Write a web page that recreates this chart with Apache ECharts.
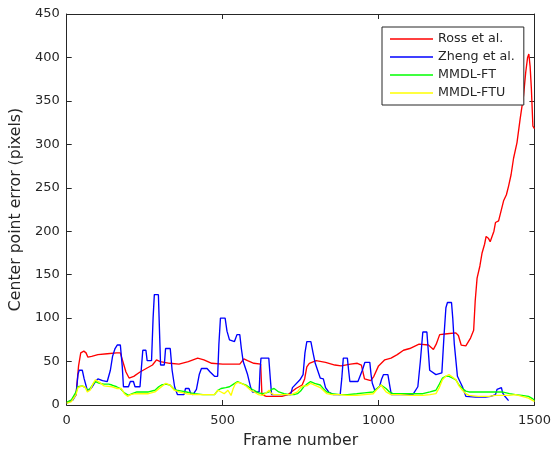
<!DOCTYPE html>
<html>
<head>
<meta charset="utf-8">
<script src="https://cdn.jsdelivr.net/npm/echarts@6/dist/echarts.min.js"></script>
<style>
  html, body { margin: 0; padding: 0; background: #fff; }
  #chart { width: 554px; height: 456px; }
</style>
</head>
<body>
<div id="chart"></div>
<script>
// Center point error per frame, [frame, error in pixels]
const seriesNames = ['Ross et al.', 'Zheng et al.', 'MMDL-FT', 'MMDL-FTU'];
const seriesColors = ['#ff0000', '#0000ff', '#00ff00', '#ffff00'];
const xTicks = [0, 500, 1000, 1500];
const yTicks = [0, 50, 100, 150, 200, 250, 300, 350, 400, 450];

const ross = [
  [0,3],[15,5],[30,12],[38,45],[45,60],[55,62],[62,60],[68,55],[80,56],[100,58],[130,59],[160,60],[172,60],
  [180,50],[190,38],[200,31],[215,33],[235,38],[255,42],[275,46],[288,52],[300,50],[330,48],[360,47],[390,50],
  [420,54],[440,52],[465,48],[500,47],[530,47],[555,47],[568,53],[580,51],[600,48],[622,47],[626,12],[640,10],
  [660,10],[690,10],[710,12],[735,19],[755,23],[763,30],[770,44],[778,48],[800,51],[830,49],[860,46],[880,45],
  [910,47],[932,48],[945,46],[955,30],[975,28],[985,33],[1000,45],[1020,52],[1040,54],[1060,58],[1080,63],
  [1100,65],[1130,70],[1160,69],[1176,64],[1185,70],[1196,81],[1220,82],[1248,83],[1256,80],[1265,69],[1280,68],
  [1295,77],[1305,86],[1310,120],[1316,146],[1325,160],[1332,175],[1340,185],[1345,194],[1352,192],[1358,188],
  [1364,190],[1370,200],[1375,210],[1385,212],[1391,213],[1401,235],[1410,242],[1417,252],[1425,265],[1433,284],
  [1444,302],[1454,329],[1465,356],[1472,383],[1478,400],[1482,404],[1486,390],[1490,365],[1495,321],[1500,318]
];

const zheng = [
  [0,2],[20,6],[30,12],[36,35],[40,40],[50,40],[56,30],[66,17],[75,18],[82,21],[92,27],[100,30],[115,28],[130,27],
  [140,40],[147,56],[155,65],[162,69],[172,69],[178,45],[182,21],[198,21],[204,27],[214,27],[219,21],[235,21],
  [240,45],[244,63],[254,63],[258,51],[272,51],[277,100],[281,127],[294,127],[298,80],[301,46],[313,46],[317,65],
  [332,65],[338,40],[346,21],[355,12],[376,12],[381,19],[392,19],[398,13],[405,12],[416,18],[425,35],[432,42],
  [450,42],[460,38],[474,33],[484,33],[488,70],[493,100],[508,100],[514,85],[522,75],[538,73],[546,81],[555,81],
  [560,65],[566,50],[580,35],[590,20],[596,15],[617,15],[620,40],[623,54],[648,54],[653,30],[657,12],[718,12],
  [724,20],[730,22],[748,29],[758,35],[764,60],[770,73],[783,73],[790,60],[797,48],[813,31],[823,30],[830,20],
  [840,15],[855,12],[877,12],[882,30],[887,54],[900,54],[904,40],[908,27],[934,27],[948,40],[956,49],[972,49],
  [976,35],[980,25],[988,17],[1003,21],[1010,30],[1016,35],[1030,35],[1037,20],[1041,12],[1110,12],[1126,21],
  [1134,50],[1142,84],[1155,84],[1160,60],[1164,40],[1184,35],[1203,37],[1210,80],[1216,112],[1221,118],[1234,118],
  [1238,100],[1243,70],[1253,33],[1269,21],[1280,10],[1285,8],[1311,9],[1343,9],[1360,10],[1375,12],[1380,18],
  [1383,20],[1394,20],[1398,14],[1405,10],[1417,5]
];

const mmdlFT = [
  [0,3],[15,6],[30,15],[36,21],[50,22],[60,20],[66,17],[75,19],[85,24],[92,27],[105,25],[119,24],[135,24],[145,23],
  [160,21],[172,19],[185,14],[198,11],[210,13],[225,15],[245,15],[262,15],[283,17],[295,21],[304,23],[318,24],
  [331,23],[345,18],[352,17],[370,16],[384,15],[397,14],[410,13],[437,12],[455,12],[474,12],[485,17],[495,19],
  [510,20],[522,21],[535,24],[548,27],[560,25],[575,23],[590,19],[601,17],[615,14],[628,13],[640,14],[649,15],
  [657,18],[665,19],[680,15],[697,13],[715,12],[729,12],[740,13],[750,16],[760,21],[770,24],[782,27],[795,25],
  [813,23],[825,18],[834,15],[850,13],[877,12],[900,12],[930,13],[955,14],[983,15],[995,19],[1008,23],[1016,21],
  [1024,19],[1035,15],[1046,13],[1070,13],[1100,13],[1142,13],[1165,15],[1184,17],[1195,24],[1205,31],[1215,33],
  [1226,33],[1238,31],[1248,29],[1258,23],[1269,19],[1280,16],[1290,15],[1320,15],[1354,15],[1375,15],[1396,15],
  [1420,13],[1439,12],[1460,11],[1481,10],[1495,7],[1500,5]
];

const mmdlFTU = [
  [0,2],[15,4],[30,12],[36,20],[50,22],[60,20],[66,15],[75,17],[85,25],[92,29],[105,26],[120,22],[145,21],[160,19],
  [175,19],[185,13],[195,10],[205,12],[220,13],[245,13],[262,13],[283,15],[300,20],[318,25],[331,23],[345,17],
  [360,15],[384,13],[410,12],[437,12],[460,12],[474,12],[485,17],[495,15],[505,13],[511,11],[517,17],[522,18],
  [527,11],[533,18],[540,24],[548,26],[560,25],[575,22],[590,17],[601,15],[615,12],[628,11],[640,14],[649,17],
  [657,13],[665,12],[680,12],[700,12],[720,12],[740,15],[750,20],[760,22],[770,22],[782,25],[795,23],[813,20],
  [825,16],[834,13],[850,12],[877,12],[900,11],[930,11],[955,12],[983,13],[995,18],[1008,23],[1016,19],[1024,15],
  [1040,12],[1070,12],[1100,11],[1142,11],[1165,12],[1184,13],[1195,20],[1205,29],[1215,33],[1226,35],[1238,32],
  [1248,29],[1258,22],[1269,17],[1280,13],[1290,11],[1320,10],[1354,10],[1375,11],[1396,11],[1420,11],[1439,12],
  [1460,10],[1481,8],[1495,5],[1500,4]
];

const seriesData = [ross, zheng, mmdlFT, mmdlFTU];

const ink = '#262626';
const font = 'DejaVu Sans';

const chart = echarts.init(document.getElementById('chart'), null, { renderer: 'canvas' });

const baseAxis = {
  type: 'value',
  axisLine: { show: true, onZero: false, lineStyle: { color: ink, width: 1 } },
  axisTick: { show: true, inside: true, length: 5, lineStyle: { color: ink } },
  splitLine: { show: false }
};

const plainNumber = v => String(v);

chart.setOption({
  animation: false,
  backgroundColor: '#fff',
  grid: { left: 64, right: 17, top: 14, bottom: 51, containLabel: false },
  legend: {
    orient: 'vertical',
    left: 382,
    top: 27,
    padding: [5, 9, 5, 8],
    itemGap: 4,
    itemWidth: 43,
    itemHeight: 1.3,
    icon: 'rect',
    borderColor: ink,
    borderWidth: 1,
    backgroundColor: '#fff',
    textStyle: { fontFamily: font, fontSize: 12.7, color: ink, lineHeight: 14 },
    data: seriesNames
  },
  xAxis: [
    Object.assign({}, baseAxis, {
      min: xTicks[0], max: xTicks[xTicks.length - 1], interval: 500,
      position: 'bottom',
      name: 'Frame number', nameLocation: 'middle', nameGap: 28,
      nameTextStyle: { fontFamily: font, fontSize: 15.7, color: ink },
      axisLabel: { show: true, margin: 9, fontFamily: font, fontSize: 13, color: ink, formatter: plainNumber }
    }),
    Object.assign({}, baseAxis, {
      min: xTicks[0], max: xTicks[xTicks.length - 1], interval: 500,
      position: 'top', axisLabel: { show: false }
    })
  ],
  yAxis: [
    Object.assign({}, baseAxis, {
      min: yTicks[0], max: yTicks[yTicks.length - 1], interval: 50,
      position: 'left',
      name: 'Center point error (pixels)', nameLocation: 'middle', nameGap: 30,
      nameTextStyle: { fontFamily: font, fontSize: 15.7, color: ink },
      axisLabel: { show: true, margin: 7, fontFamily: font, fontSize: 13, color: ink, formatter: plainNumber }
    }),
    Object.assign({}, baseAxis, {
      min: yTicks[0], max: yTicks[yTicks.length - 1], interval: 50,
      position: 'right', axisLabel: { show: false }
    })
  ],
  series: seriesNames.map((name, i) => ({
    name: name,
    type: 'line',
    xAxisIndex: 0,
    yAxisIndex: 0,
    data: seriesData[i],
    showSymbol: false,
    symbol: 'none',
    smooth: false,
    color: seriesColors[i],
    lineStyle: { color: seriesColors[i], width: 1.35 },
    itemStyle: { color: seriesColors[i] },
    z: 2 + i
  }))
});
</script>
</body>
</html>
